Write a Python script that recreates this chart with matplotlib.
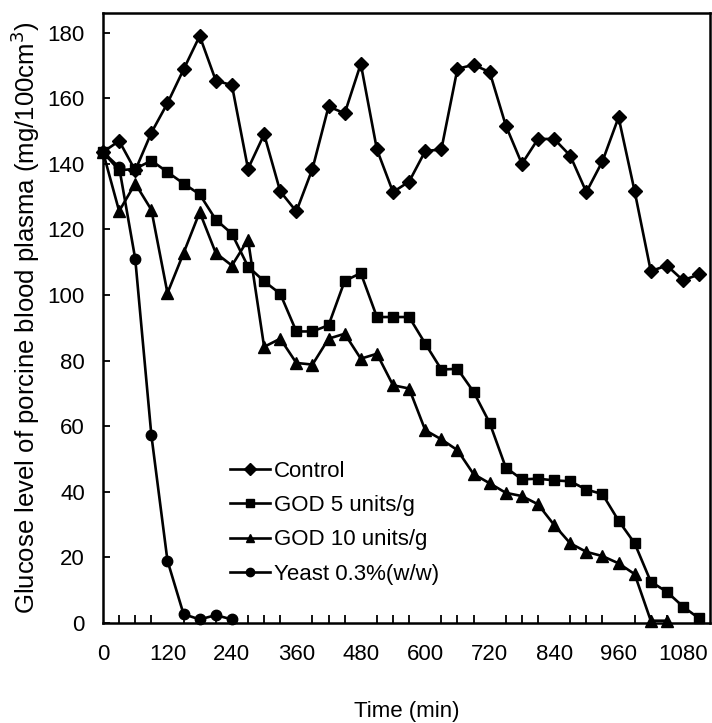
import matplotlib
matplotlib.use("Agg")
import matplotlib.pyplot as plt
import numpy as np

plt.rcParams['font.family'] = ['Liberation Sans', 'DejaVu Sans']

# time points (min), sampled every 30 min
time = np.arange(0, 1111, 30)

control = [143.6, 147, 138, 149.5, 158.5, 168.8, 179, 165.4, 164, 138.5,
           149, 131.6, 125.5, 138.5, 157.5, 155.4, 170.5, 144.4, 131.4, 134.6,
           143.9, 144.4, 169, 170.2, 168, 151.7, 140, 147.6, 147.6, 142.5,
           131.4, 140.8, 154.2, 131.6, 107.3, 109, 104.5, 106.3]

god5 = [143.6, 138, 138.5, 141, 137.5, 134, 130.7, 123, 118.7, 108.7,
        104.2, 100.4, 88.9, 88.9, 90.8, 104.3, 106.7, 93.3, 93.3, 93.3,
        85.2, 77.3, 77.5, 70.5, 61, 47.4, 43.8, 44, 43.5, 43.2,
        40.7, 39.3, 31.2, 24.3, 12.6, 9.5, 5, 1.4]

god10 = [143.6, 125.6, 134, 126, 100.6, 112.8, 125.3, 112.8, 109, 116.9,
         84.2, 86.7, 79.3, 78.8, 86.7, 88.2, 80.6, 82.1, 72.5, 71.5,
         58.8, 56, 52.7, 45.4, 42.6, 39.7, 38.7, 36.2, 29.9, 24.3,
         21.7, 20.4, 18.2, 14.9, 0.7, 0.7]

yeast = [143.6, 139, 111, 57.3, 19, 2.7, 1.1, 2.4, 1.1]

series = [
    ("Control", control, "D", 7.5),
    ("GOD 5 units/g", god5, "s", 7.5),
    ("GOD 10 units/g", god10, "^", 8),
    ("Yeast 0.3%(w/w)", yeast, "o", 7.5),
]

fig = plt.figure(figsize=(7.12, 7.23), dpi=100)
ax = fig.add_axes([0.1447, 0.1383, 0.8523, 0.8437])

for label, vals, mk, ms in series:
    ax.plot(time[:len(vals)], vals, color="black", lw=1.9, marker=mk,
            markersize=ms, label=label, clip_on=False)

ax.set_xlim(0, 1130)
ax.set_ylim(0, 186)
ax.set_xticks(np.arange(0, 1081, 120))
ax.set_xticks(np.arange(0, 1130, 30), minor=True)
ax.set_yticks(np.arange(0, 181, 20))
ax.tick_params(axis="both", which="both", direction="in", labelsize=16,
               width=1.3, top=False, right=False)
ax.tick_params(axis="x", which="major", length=0, pad=15)
ax.tick_params(axis="x", which="minor", length=6)
ax.tick_params(axis="y", which="major", length=5, pad=13)
for sp in ax.spines.values():
    sp.set_linewidth(1.8)

ax.set_xlabel("Time (min)", fontsize=16, labelpad=26)
ax.set_ylabel("Glucose level of porcine blood plasma (mg/100cm$^3$)",
              fontsize=18.5, labelpad=4)

ax.legend(loc="upper left", bbox_to_anchor=(0.209, 0.266), frameon=False,
          fontsize=16, handlelength=1.8, handletextpad=0.2,
          labelspacing=0.6, markerscale=0.8, borderpad=0, borderaxespad=0)

fig.savefig("out.png", dpi=100)
